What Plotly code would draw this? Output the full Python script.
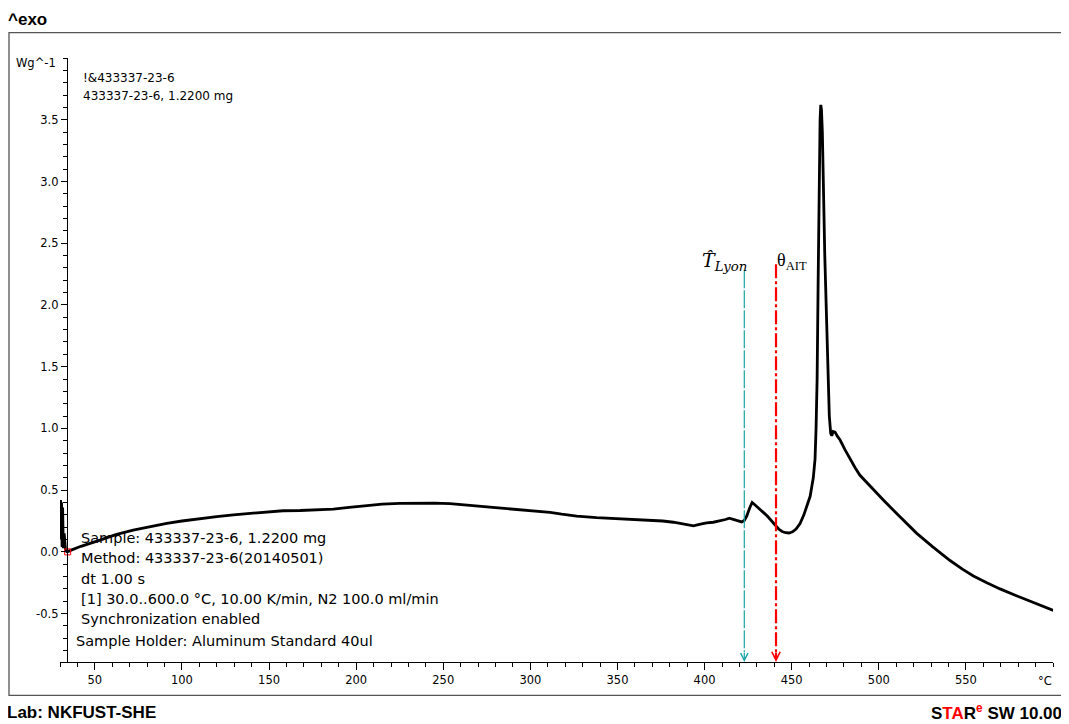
import plotly.graph_objects as go

# ---------------- data ----------------
temperature_c = [30.0, 30.3, 30.6, 30.9, 31.2, 31.5, 31.9, 32.4, 33.2, 34.2, 35.7,
                 42, 53, 62, 72, 82, 91.3, 100, 110.4, 120, 129.5, 140, 148.7, 158,
                 167.8, 177, 186.9, 196, 206, 215, 225, 235, 245, 253.9, 263.4, 273,
                 282.6, 292.2, 301, 311.3, 318, 326.6, 338, 349.6, 359, 368.7, 376,
                 382.1, 388, 393.6, 397, 401.2, 405, 408.9, 412, 414.2, 417, 419.5,
                 421.3, 422.8, 424.2, 426.0, 427.3, 429, 431.5, 433.7, 436, 438.5,
                 440.4, 442.5, 444.5, 446.5, 448.5, 450.5, 452.5, 454.8, 457, 458.6,
                 460.6, 462.4, 463.4, 464.0, 464.6, 465.2, 465.8, 466.3, 466.7, 467.1,
                 467.6, 468.2, 469.0, 470.1, 471.0, 471.6, 472.4, 473.0, 473.8, 474.9,
                 476.3, 477.8, 480.5, 483.5, 486.5, 489.2, 495, 502.6, 511, 521.8, 531,
                 540.9, 548, 554.3, 562, 569.6, 579, 588.7, 595, 600.2]
heat_flow = [0.12, 0.42, 0.10, 0.40, 0.04, 0.36, 0.03, 0.15, 0.01, 0.00, 0.01,
             0.045, 0.095, 0.14, 0.176, 0.205, 0.23, 0.25, 0.27, 0.285, 0.30, 0.313,
             0.325, 0.333, 0.335, 0.34, 0.346, 0.36, 0.376, 0.386, 0.393, 0.396,
             0.394, 0.39, 0.378, 0.365, 0.355, 0.346, 0.335, 0.32, 0.305, 0.29,
             0.278, 0.27, 0.264, 0.257, 0.25, 0.24, 0.225, 0.21, 0.222, 0.235,
             0.24, 0.25, 0.262, 0.273, 0.262, 0.248, 0.243, 0.255, 0.29, 0.36,
             0.40, 0.38, 0.35, 0.32, 0.29, 0.25, 0.217, 0.185, 0.165, 0.155, 0.153,
             0.162, 0.185, 0.23, 0.30, 0.37, 0.45, 0.60, 0.75, 1.0, 1.4, 2.2, 3.1,
             3.5, 3.62, 3.58, 3.40, 2.95, 2.40, 1.85, 1.35, 1.10, 0.96, 0.94, 0.975,
             0.97, 0.935, 0.906, 0.83, 0.75, 0.68, 0.62, 0.53, 0.42, 0.30, 0.15, 0.04,
             -0.07, -0.14, -0.195, -0.25, -0.30, -0.355, -0.41, -0.445, -0.475]

marker_temps = [29.0, 34.4]
marker_values = [0.11, 0.0]

t_lyon = 422.8
theta_ait = 441.0
vline_top = [2.28, 2.33]

x_range = [30, 600]
y_range = [-0.892, 4.0]
x_tickvals = [50, 100, 150, 200, 250, 300, 350, 400, 450, 500, 550]
y_tickvals = [-0.5, 0.0, 0.5, 1.0, 1.5, 2.0, 2.5, 3.0, 3.5]
y_ticktext = ["-0.5", "0.0", "0.5", "1.0", "1.5", "2.0", "2.5", "3.0", "3.5"]

info_lines = ["Sample: 433337-23-6, 1.2200 mg",
              "Method: 433337-23-6(20140501)",
              "dt 1.00 s",
              "[1] 30.0..600.0 °C, 10.00 K/min, N2 100.0 ml/min",
              "Synchronization enabled"]
holder_line = "Sample Holder: Aluminum Standard 40ul"
curve_label = ["!&433337-23-6", "433337-23-6, 1.2200 mg"]

# ---------------- layout geometry (pixels) ----------------
# the page body has an 8px margin, so the figure is drawn 8px in from the corner
OX, OY = 8, 8
W, H = 1069 - OX, 724 - OY
L, R, T, B = 60 - OX, 1053 - OX, 58.4 - OY, 661.7 - OY


def fx(px):
    """window pixel x -> paper fraction"""
    return (px - OX - L) / (R - L)


def fy(py):
    """window pixel y -> paper fraction"""
    return (B - (py - OY)) / (B - T)


FONT = "DejaVu Sans"
CYAN = "#1aa3a3"
RED = "#ff0000"

fig = go.Figure()

fig.add_trace(go.Scatter(x=temperature_c, y=heat_flow, mode="lines",
                         line=dict(color="black", width=2.8),
                         cliponaxis=False, showlegend=False, hoverinfo="skip"))

fig.add_trace(go.Scatter(x=marker_temps, y=marker_values, mode="markers",
                         marker=dict(symbol="square-open", size=6, color=RED,
                                     line=dict(width=1, color=RED)),
                         cliponaxis=False, showlegend=False, hoverinfo="skip"))

# vertical marker lines
fig.add_trace(go.Scatter(x=[t_lyon, t_lyon], y=[vline_top[0], y_range[0] + 0.08],
                         mode="lines", line=dict(color=CYAN, width=1.2, dash="18px,2px"),
                         showlegend=False, hoverinfo="skip"))
fig.add_trace(go.Scatter(x=[theta_ait, theta_ait], y=[vline_top[1], y_range[0] + 0.08],
                         mode="lines", line=dict(color=RED, width=2.2, dash="14px,3px,3px,3px"),
                         showlegend=False, hoverinfo="skip"))

annotations = []
# arrowheads
annotations.append(dict(x=t_lyon, y=y_range[0], ax=t_lyon, ay=y_range[0] + 0.09,
                        xref="x", yref="y", axref="x", ayref="y", text="",
                        showarrow=True, arrowhead=5, arrowsize=1.2, arrowwidth=1.2,
                        arrowcolor=CYAN))
annotations.append(dict(x=theta_ait, y=y_range[0], ax=theta_ait, ay=y_range[0] + 0.09,
                        xref="x", yref="y", axref="x", ayref="y", text="",
                        showarrow=True, arrowhead=5, arrowsize=0.75, arrowwidth=2.2,
                        arrowcolor=RED))

# labels of the marker lines
annotations.append(dict(x=fx(749), y=fy(276), xref="paper", yref="paper",
                        xanchor="right", yanchor="bottom", showarrow=False,
                        text="<i>T\u0302</i><sub><i>Lyon</i></sub>",
                        font=dict(family="DejaVu Serif", size=19, color="black")))
annotations.append(dict(x=fx(775), y=fy(262), xref="paper", yref="paper",
                        xanchor="left", yanchor="middle", showarrow=False,
                        text="θ<sub>AIT</sub>",
                        font=dict(family="Liberation Serif", size=18, color="black")))

# y unit label
annotations.append(dict(x=fx(58), y=fy(63), xref="paper", yref="paper",
                        xanchor="right", yanchor="middle", showarrow=False,
                        text="Wg^-1", font=dict(family=FONT, size=11.5, color="black")))
# x unit label
annotations.append(dict(x=fx(1054), y=fy(681), xref="paper", yref="paper",
                        xanchor="right", yanchor="middle", showarrow=False,
                        text="°C", font=dict(family=FONT, size=11.5, color="black")))

# curve label top-left
for i, line in enumerate(curve_label):
    annotations.append(dict(x=fx(81), y=fy(78 + 18 * i), xref="paper", yref="paper",
                            xanchor="left", yanchor="middle", showarrow=False,
                            text=line, font=dict(family=FONT, size=12, color="black")))

# info block bottom-left
for i, line in enumerate(info_lines):
    annotations.append(dict(x=fx(79), y=fy(538 + 20.3 * i), xref="paper", yref="paper",
                            xanchor="left", yanchor="middle", showarrow=False,
                            text=line, font=dict(family=FONT, size=14.5, color="black")))
annotations.append(dict(x=fx(74), y=fy(641), xref="paper", yref="paper",
                        xanchor="left", yanchor="middle", showarrow=False,
                        text=holder_line, font=dict(family=FONT, size=14.5, color="black")))

# page texts
annotations.append(dict(x=fx(6), y=fy(20), xref="paper", yref="paper",
                        xanchor="left", yanchor="middle", showarrow=False,
                        text="<b>^exo</b>",
                        font=dict(family="Liberation Sans", size=17, color="black")))
annotations.append(dict(x=fx(5), y=fy(712), xref="paper", yref="paper",
                        xanchor="left", yanchor="middle", showarrow=False,
                        text="<b>Lab: NKFUST-SHE</b>",
                        font=dict(family="Liberation Sans", size=17, color="black")))
annotations.append(dict(x=fx(1064), y=fy(712), xref="paper", yref="paper",
                        xanchor="right", yanchor="middle", showarrow=False,
                        text="<b>S<span style='color:#ff0000'>TA</span>R"
                             "<sup><span style='color:#ff0000'>e</span></sup> SW 10.00</b>",
                        font=dict(family="Liberation Sans", size=17, color="black")))

shapes = [dict(type="rect", xref="paper", yref="paper",
               x0=fx(9), x1=fx(1066), y0=fy(695), y1=fy(33),
               line=dict(color="#555555", width=1.3), fillcolor="rgba(0,0,0,0)")]

fig.update_layout(
    width=W, height=H,
    margin=dict(l=L, r=W - R, t=T, b=H - B, pad=0),
    paper_bgcolor="white", plot_bgcolor="white",
    showlegend=False,
    annotations=annotations,
    shapes=shapes,
    xaxis=dict(range=x_range, showgrid=False, zeroline=False,
               showline=True, linecolor="black", linewidth=1.3,
               tickmode="array", tickvals=x_tickvals,
               ticks="outside", ticklen=7, tickwidth=1, tickcolor="black",
               minor=dict(tickmode="linear", tick0=0, dtick=10, ticks="outside",
                          ticklen=4, tickwidth=1, tickcolor="black"),
               tickfont=dict(family=FONT, size=11.5, color="black")),
    yaxis=dict(range=y_range, showgrid=False, zeroline=False,
               anchor="free", position=fx(67),
               showline=True, linecolor="black", linewidth=1.3,
               tickmode="array", tickvals=y_tickvals, ticktext=y_ticktext,
               ticks="outside", ticklen=6, tickwidth=1, tickcolor="black",
               minor=dict(tickmode="linear", tick0=0, dtick=0.1, ticks="outside",
                          ticklen=4, tickwidth=1, tickcolor="black"),
               tickfont=dict(family=FONT, size=11.5, color="black")),
)

fig.write_html("out.html")
